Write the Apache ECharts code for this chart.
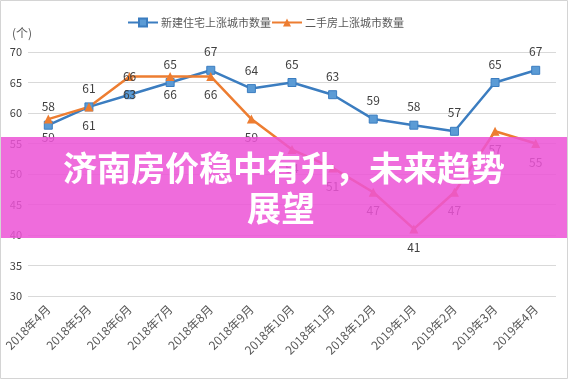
<!DOCTYPE html>
<html><head><meta charset="utf-8">
<script src="https://cdn.jsdelivr.net/npm/echarts@6/dist/echarts.min.js"></script>
<style>html,body{margin:0;padding:0;background:#fff}#c{width:568px;height:379px}</style>
</head><body><div id="c"></div>
<script>
const categories = ['2018年4月','2018年5月','2018年6月','2018年7月','2018年8月','2018年9月','2018年10月','2018年11月','2018年12月','2019年1月','2019年2月','2019年3月','2019年4月'];
const newHomes = [58, 61, 63, 65, 67, 64, 65, 63, 59, 58, 57, 65, 67];
const resale = [59, 61, 66, 66, 66, 59, 54, 51, 47, 41, 47, 57, 55];
const seriesNames = ['新建住宅上涨城市数量', '二手房上涨城市数量'];
const yTicks = {min: 30, max: 70, interval: 5};
const unitLabel = '(个)';
const titleLines = ['济南房价稳中有升，未来趋势', '展望'];

const FONT = '"Noto Sans CJK SC", "Noto Sans", sans-serif';
const chart = echarts.init(document.getElementById('c'));
const blueData = newHomes.map((v, i) => i === 2 ? {value: v, label: {position: 'inside'}} : v);
const orangeData = resale.map((v, i) => i === 2 ? {value: v, label: {position: 'inside'}} : v);
chart.setOption({
  animation: false,
  textStyle: {fontFamily: FONT},
  legend: {
    top: 12, left: 122,
    itemWidth: 30, itemHeight: 10, itemGap: 0,
    textStyle: {color: '#595959', fontSize: 11, fontFamily: FONT, padding: [0, 0, 0, -2]},
    data: seriesNames
  },
  grid: {left: 28, right: 12, top: 52, bottom: 83},
  xAxis: {
    type: 'category', data: categories, boundaryGap: true,
    axisLine: {show: false}, axisTick: {show: false},
    axisLabel: {rotate: 45, fontSize: 12, color: '#595959', margin: 11, fontFamily: FONT}
  },
  yAxis: {
    type: 'value', min: yTicks.min, max: yTicks.max, interval: yTicks.interval,
    axisLine: {show: false}, axisTick: {show: false},
    axisLabel: {fontSize: 11, color: '#404040', margin: 6, fontFamily: FONT},
    splitLine: {lineStyle: {color: '#d9d9d9', width: 1}}
  },
  series: [
    {
      name: seriesNames[0], type: 'line', data: blueData,
      symbol: 'rect', symbolSize: 8,
      lineStyle: {color: '#3b7dc0', width: 2.5},
      itemStyle: {color: '#5b9bd5', borderColor: '#3b7dc0', borderWidth: 1},
      label: {show: true, position: 'top', distance: 8, fontSize: 12, color: '#404040', fontFamily: FONT}
    },
    {
      name: seriesNames[1], type: 'line', data: orangeData,
      symbol: 'triangle', symbolSize: 9,
      lineStyle: {color: '#ed7d31', width: 2.5},
      itemStyle: {color: '#ed7d31'},
      label: {show: true, position: 'bottom', distance: 8, fontSize: 12, color: '#404040', fontFamily: FONT}
    }
  ],
  graphic: [
    {type: 'text', left: 12, top: 27, z: 50, style: {text: unitLabel, fill: '#595959', font: '12px ' + FONT}},
    {type: 'rect', z: 100, shape: {x: 0, y: 137, width: 568, height: 101}, style: {fill: 'rgba(236,84,214,0.86)'}},
    {type: 'text', z: 101, x: 284, y: 168, style: {text: titleLines[0], fill: '#ffffff', font: 'bold 34px ' + FONT, textAlign: 'center', textVerticalAlign: 'middle'}},
    {type: 'text', z: 101, x: 281, y: 208, style: {text: titleLines[1], fill: '#ffffff', font: 'bold 34px ' + FONT, textAlign: 'center', textVerticalAlign: 'middle'}},
    {type: 'rect', z: 102, shape: {x: 0.5, y: 0.5, width: 567, height: 378}, style: {fill: 'none', stroke: '#d4d4d4', lineWidth: 1}}
  ]
});
</script></body></html>
